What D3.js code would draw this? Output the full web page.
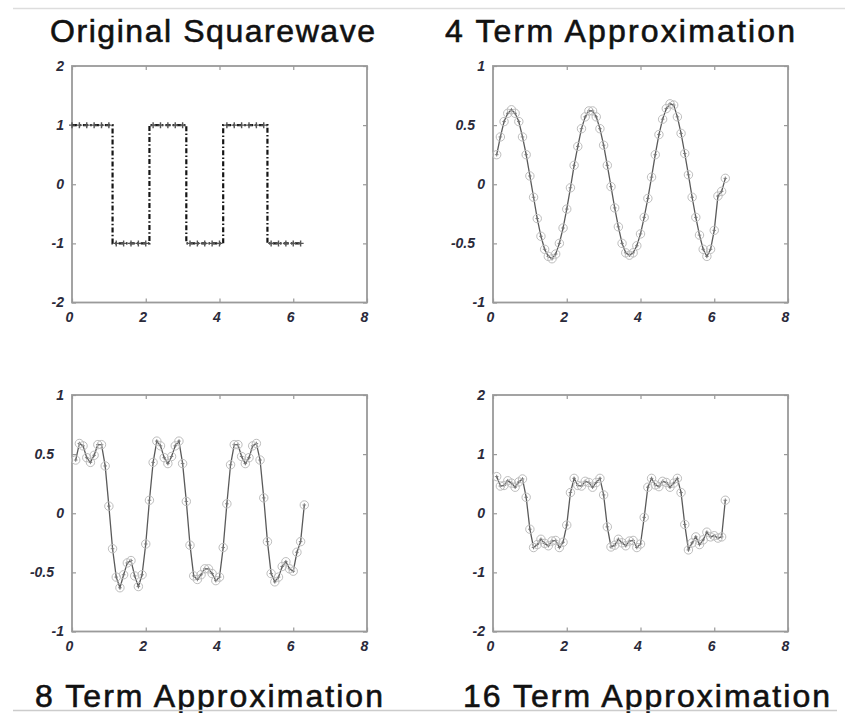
<!DOCTYPE html>
<html>
<head>
<meta charset="utf-8">
<script src="https://cdn.jsdelivr.net/npm/d3@7"></script>
<style>
  body { margin: 0; background: #fff; }
  svg { display: block; }
  .title { font-family: "Liberation Sans", Arial, sans-serif; font-size: 32px; fill: #111; stroke: #111; stroke-width: 0.6; }
  .tick text { font-family: "Liberation Sans", Arial, sans-serif; font-size: 14px; font-style: italic; font-weight: bold; fill: #2a2a3a; }
</style>
</head>
<body>
<svg width="861" height="713"></svg>
<script>
  'use strict';

  // sample grid and values
  const xSquare = [0, 0.2, 0.4, 0.6, 0.8, 1.0, 1.2, 1.4, 1.6, 1.8, 2.0, 2.2, 2.4, 2.6, 2.8, 3.0,
    3.2, 3.4, 3.6, 3.8, 4.0, 4.2, 4.4, 4.6, 4.8, 5.0, 5.2, 5.4, 5.6, 5.8, 6.0, 6.2];
  const ySquare = [1, 1, 1, 1, 1, 1, -1, -1, -1, -1, -1, 1, 1, 1, 1, 1,
    -1, -1, -1, -1, -1, 1, 1, 1, 1, 1, 1, -1, -1, -1, -1, -1];

  const xApprox = [0.1, 0.2, 0.3, 0.4, 0.5, 0.6, 0.7, 0.8, 0.9, 1.0,
    1.1, 1.2, 1.3, 1.4, 1.5, 1.6, 1.7, 1.8, 1.9, 2.0,
    2.1, 2.2, 2.3, 2.4, 2.5, 2.6, 2.7, 2.8, 2.9, 3.0,
    3.1, 3.2, 3.3, 3.4, 3.5, 3.6, 3.7, 3.8, 3.9, 4.0,
    4.1, 4.2, 4.3, 4.4, 4.5, 4.6, 4.7, 4.8, 4.9, 5.0,
    5.1, 5.2, 5.3, 5.4, 5.5, 5.6, 5.7, 5.8, 5.9, 6.0,
    6.1, 6.2, 6.3];

  const yTerm4 = [0.25, 0.40, 0.53, 0.60, 0.63, 0.60, 0.53, 0.40, 0.25, 0.07,
    -0.11, -0.29, -0.44, -0.55, -0.61, -0.63, -0.59, -0.50, -0.37, -0.21,
    -0.03, 0.16, 0.32, 0.47, 0.57, 0.62, 0.62, 0.57, 0.47, 0.33,
    0.16, -0.02, -0.20, -0.36, -0.50, -0.58, -0.60, -0.58, -0.52, -0.42,
    -0.28, -0.12, 0.06, 0.25, 0.42, 0.55, 0.64, 0.68, 0.67, 0.57,
    0.43, 0.26, 0.08, -0.11, -0.28, -0.43, -0.55, -0.61, -0.55, -0.39,
    -0.10, -0.06, 0.05];

  const yTerm8 = [0.45, 0.59, 0.57, 0.47, 0.43, 0.49, 0.58, 0.58, 0.40, 0.06,
    -0.30, -0.54, -0.63, -0.52, -0.42, -0.40, -0.53, -0.62, -0.52, -0.26,
    0.11, 0.43, 0.61, 0.57, 0.47, 0.42, 0.48, 0.57, 0.61, 0.42,
    0.10, -0.27, -0.53, -0.56, -0.52, -0.47, -0.47, -0.51, -0.57, -0.54,
    -0.29, 0.08, 0.41, 0.58, 0.58, 0.48, 0.42, 0.47, 0.57, 0.59,
    0.45, 0.13, -0.24, -0.51, -0.58, -0.54, -0.45, -0.41, -0.47, -0.49,
    -0.33, -0.24, 0.07];

  const yTerm16 = [0.62, 0.46, 0.47, 0.55, 0.51, 0.44, 0.53, 0.58, 0.27, -0.27,
    -0.58, -0.53, -0.44, -0.51, -0.55, -0.47, -0.46, -0.58, -0.49, -0.20,
    0.35, 0.59, 0.47, 0.46, 0.54, 0.52, 0.44, 0.52, 0.59, 0.31,
    -0.23, -0.57, -0.54, -0.44, -0.50, -0.55, -0.47, -0.46, -0.58, -0.52,
    -0.07, 0.44, 0.59, 0.48, 0.45, 0.54, 0.52, 0.44, 0.51, 0.59,
    0.35, -0.19, -0.62, -0.50, -0.40, -0.53, -0.45, -0.32, -0.40, -0.38,
    -0.42, -0.40, 0.22];

  const xTicks = [0, 2, 4, 6, 8];
  const yTicksWide = [-2, -1, 0, 1, 2];
  const yTicksNarrow = [-1, -0.5, 0, 0.5, 1];
  const titles = ['Original Squarewave', '4 Term Approximation', '8 Term Approximation', '16 Term Approximation'];

  const svg = d3.select('svg');

  // faint page rules top and bottom
  svg.append('line').attr('x1', 13).attr('x2', 845).attr('y1', 8.5).attr('y2', 8.5)
      .attr('stroke', '#ddd').attr('stroke-width', 1.5);

  const panels = [
    { left: 72, top: 66, yTicks: yTicksWide, ys: ySquare, xs: xSquare, square: true,
      title: titles[0], tx: 50, tw: 325, ty: 42 },
    { left: 493, top: 66, yTicks: yTicksNarrow, ys: yTerm4, xs: xApprox,
      title: titles[1], tx: 445, tw: 350, ty: 42 },
    { left: 72, top: 395, yTicks: yTicksNarrow, ys: yTerm8, xs: xApprox,
      title: titles[2], tx: 35, tw: 348, ty: 707 },
    { left: 493, top: 395, yTicks: yTicksWide, ys: yTerm16, xs: xApprox,
      title: titles[3], tx: 463, tw: 367, ty: 707 }
  ];
  const W = 295, H = 236.5;
  const plus = 'M-3,0H3M0,-3V3';
  const smallPlus = 'M-1.8,0H1.8M0,-1.8V1.8';

  panels.forEach(p => {
    const g = svg.append('g').attr('transform', `translate(${p.left},${p.top})`);
    const x = d3.scaleLinear().domain([0, 8]).range([0, W]);
    const y = d3.scaleLinear().domain(d3.extent(p.yTicks)).range([H, 0]);

    // axes with inward ticks on all sides
    g.append('g').attr('transform', `translate(0,${H})`)
        .call(d3.axisBottom(x).tickValues(xTicks).tickSize(-4).tickSizeOuter(0).tickPadding(10))
        .call(a => a.selectAll('text').attr('dx', -3));
    g.append('g')
        .call(d3.axisTop(x).tickValues(xTicks).tickSize(-4).tickSizeOuter(0).tickFormat(''));
    g.append('g')
        .call(d3.axisLeft(y).tickValues(p.yTicks).tickSize(-4).tickSizeOuter(0).tickPadding(8)
          .tickFormat(d => String(d)))
        .call(a => a.selectAll('text').attr('dx', d => String(d).includes('.') ? -10 : 0));
    g.append('g').attr('transform', `translate(${W},0)`)
        .call(d3.axisRight(y).tickValues(p.yTicks).tickSize(-4).tickSizeOuter(0).tickFormat(''));
    g.selectAll('.domain').remove();
    g.selectAll('.tick line').attr('stroke', '#999').attr('stroke-width', 1.2);

    g.append('rect').attr('width', W).attr('height', H)
        .attr('fill', 'none').attr('stroke', '#9a9a9a').attr('stroke-width', 1.8);

    const pts = p.xs.map((v, i) => [v, p.ys[i]]);

    if (p.square) {
      g.append('path').datum(pts)
          .attr('d', d3.line().x(d => x(d[0])).y(d => y(d[1])).curve(d3.curveStep))
          .attr('fill', 'none').attr('stroke', '#151515').attr('stroke-width', 2.2)
          .attr('stroke-dasharray', '5,2.2,1.6,2.2');
      g.selectAll('.mk').data(pts).enter().append('path')
          .attr('transform', d => `translate(${x(d[0])},${y(d[1])})`)
          .attr('d', plus).attr('stroke', '#555').attr('stroke-width', 1.4);
    } else {
      g.append('path').datum(pts)
          .attr('d', d3.line().x(d => x(d[0])).y(d => y(d[1])))
          .attr('fill', 'none').attr('stroke', '#5a5a5a').attr('stroke-width', 1.3);
      g.selectAll('.mk').data(pts).enter().append('path')
          .attr('transform', d => `translate(${x(d[0])},${y(d[1])})`)
          .attr('d', smallPlus).attr('stroke', '#777').attr('stroke-width', 0.9);
      g.selectAll('.ring').data(pts).enter().append('circle')
          .attr('cx', d => x(d[0])).attr('cy', d => y(d[1])).attr('r', 4.2)
          .attr('fill', 'none').attr('stroke', '#bdbdbd').attr('stroke-width', 1);
    }

    svg.append('text').attr('class', 'title')
        .attr('x', p.tx).attr('y', p.ty)
        .attr('textLength', p.tw).attr('lengthAdjust', 'spacing')
        .text(p.title);
  });

  // bottom rule drawn over the lower titles, as in the picture
  svg.append('line').attr('x1', 13).attr('x2', 837).attr('y1', 710.5).attr('y2', 710.5)
      .attr('stroke', '#ccc').attr('stroke-width', 1.5);
</script>
</body>
</html>
